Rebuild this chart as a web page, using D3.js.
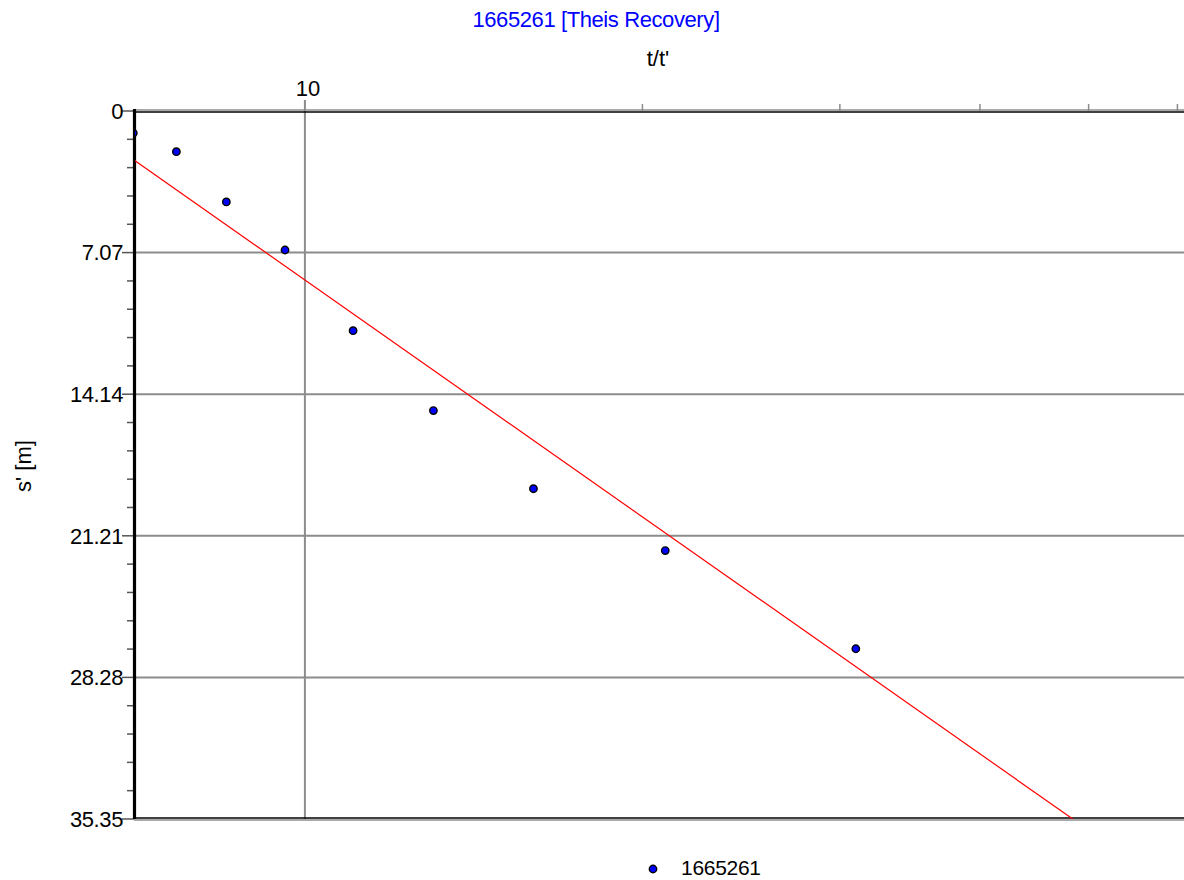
<!DOCTYPE html>
<html>
<head>
<meta charset="utf-8">
<script src="https://cdn.jsdelivr.net/npm/d3@7"></script>
<style>
  body { margin: 0; background: #ffffff; }
  text { font-family: "Liberation Sans", Arial, sans-serif; font-size: 22px; }
</style>
</head>
<body>
<div id="chart"></div>
<script>
// measured recovery points: t/t' and residual drawdown s' [m]
const ratio = [7.03, 7.68, 8.51, 9.60, 11.04, 13.02, 15.99, 20.96, 31.0, 61.5];
const drawdown = [1.10, 2.03, 4.54, 6.94, 10.97, 14.96, 18.86, 21.95, 26.85, 35.4];

// straight line fit (two end points)
const fitRatio = [7.0, 48.4];
const fitDrawdown = [2.35, 35.35];

const yTicks = [0, 7.07, 14.14, 21.21, 28.28, 35.35];
const xMajorTicks = [10];
const xMinorTicks = [20, 30, 40, 50, 60];

const seriesName = "1665261";
const title = "1665261 [Theis Recovery]";

// set the dimensions of the graph
const fullWidth = 1184, fullHeight = 880;
const plot = {left: 134, top: 111, right: 1184, bottom: 819};

// set the ranges
const x = d3.scaleLog()
          .domain([7.04, 60.82])
          .range([plot.left, plot.right]);

const y = d3.scaleLinear()
          .domain([0, 35.35])
          .range([plot.top, plot.bottom]);

let svg = d3.select("#chart").append("svg")
    .attr("width", fullWidth)
    .attr("height", fullHeight);

svg.append("defs").append("clipPath")
    .attr("id", "plotClip")
  .append("rect")
    .attr("x", plot.left + 1)
    .attr("y", plot.top)
    .attr("width", plot.right - plot.left)
    .attr("height", plot.bottom - plot.top);

// horizontal grid
svg.append("g")
    .selectAll("line")
    .data(yTicks.slice(1, -1))
    .enter().append("line")
    .attr("x1", plot.left)
    .attr("x2", plot.right)
    .attr("y1", d => y(d))
    .attr("y2", d => y(d))
    .style("stroke", "#8c8c8c")
    .style("stroke-width", 2);

// vertical grid at 10 (runs up over the axis as the tick)
svg.append("g")
    .selectAll("line")
    .data(xMajorTicks)
    .enter().append("line")
    .attr("x1", d => x(d))
    .attr("x2", d => x(d))
    .attr("y1", plot.top - 11)
    .attr("y2", plot.bottom)
    .style("stroke", "#8c8c8c")
    .style("stroke-width", 2);

// minor ticks on top axis
svg.append("g")
    .selectAll("line")
    .data(xMinorTicks)
    .enter().append("line")
    .attr("x1", d => x(d))
    .attr("x2", d => x(d))
    .attr("y1", plot.top - 7)
    .attr("y2", plot.top)
    .style("stroke", "#8c8c8c")
    .style("stroke-width", 1.5);

// frame: gray + black double lines top and bottom
svg.append("line")
    .attr("x1", plot.left).attr("x2", plot.right)
    .attr("y1", plot.top - 1).attr("y2", plot.top - 1)
    .style("stroke", "#8c8c8c").style("stroke-width", 1.6);
svg.append("line")
    .attr("x1", plot.left).attr("x2", plot.right)
    .attr("y1", plot.top + 1).attr("y2", plot.top + 1)
    .style("stroke", "#000").style("stroke-width", 1.4);
svg.append("line")
    .attr("x1", plot.left).attr("x2", plot.right)
    .attr("y1", plot.bottom + 1).attr("y2", plot.bottom + 1)
    .style("stroke", "#8c8c8c").style("stroke-width", 1.6);
svg.append("line")
    .attr("x1", plot.left).attr("x2", plot.right)
    .attr("y1", plot.bottom - 1).attr("y2", plot.bottom - 1)
    .style("stroke", "#000").style("stroke-width", 1.4);

// y axis: major and minor ticks
const yMinor = [];
for (let i = 0; i < yTicks.length - 1; i++) {
  const step = (yTicks[i + 1] - yTicks[i]) / 5;
  for (let k = 1; k < 5; k++) yMinor.push(yTicks[i] + k * step);
}

svg.append("g")
    .selectAll("line")
    .data(yMinor)
    .enter().append("line")
    .attr("x1", plot.left - 7)
    .attr("x2", plot.left)
    .attr("y1", d => y(d))
    .attr("y2", d => y(d))
    .style("stroke", "#555")
    .style("stroke-width", 1.5);

svg.append("g")
    .selectAll("line")
    .data(yTicks)
    .enter().append("line")
    .attr("x1", plot.left - 12)
    .attr("x2", plot.left)
    .attr("y1", d => y(d))
    .attr("y2", d => y(d))
    .style("stroke", "#555")
    .style("stroke-width", 1.5);

svg.append("g")
    .selectAll("text")
    .data(yTicks)
    .enter().append("text")
    .attr("x", plot.left - 11)
    .attr("y", d => y(d))
    .attr("dy", "0.35em")
    .attr("text-anchor", "end")
    .style("letter-spacing", "-0.4px")
    .text(d => d === 0 ? "0" : d.toFixed(2));

// thick left axis line
svg.append("line")
    .attr("x1", plot.left + 0.5).attr("x2", plot.left + 0.5)
    .attr("y1", plot.top - 2).attr("y2", plot.bottom)
    .style("stroke", "#000").style("stroke-width", 3.2);

// x tick labels (top)
svg.append("g")
    .selectAll("text")
    .data(xMajorTicks)
    .enter().append("text")
    .attr("x", d => x(d) + 3)
    .attr("y", 96)
    .attr("text-anchor", "middle")
    .text(d => d);

// fit line
svg.append("path")
    .datum(fitRatio.map((d, i) => [d, fitDrawdown[i]]))
    .attr("clip-path", "url(#plotClip)")
    .attr("d", d3.line().x(d => x(d[0])).y(d => y(d[1])))
    .style("fill", "none")
    .style("stroke", "#ff0000")
    .style("stroke-width", 1.2);

// data points
svg.append("g")
    .attr("clip-path", "url(#plotClip)")
    .selectAll("circle")
    .data(ratio)
    .enter().append("circle")
    .attr("cx", d => x(d))
    .attr("cy", (d, i) => y(drawdown[i]))
    .attr("r", 3.7)
    .style("fill", "#0000ff")
    .style("stroke", "#000")
    .style("stroke-width", 1.4);

// titles
svg.append("text")
    .attr("x", 596)
    .attr("y", 27)
    .attr("text-anchor", "middle")
    .style("fill", "#0000ff")
    .style("letter-spacing", "-0.4px")
    .text(title);

svg.append("text")
    .attr("x", 658)
    .attr("y", 66)
    .attr("text-anchor", "middle")
    .text("t/t'");

svg.append("text")
    .attr("transform", "translate(31, 466) rotate(-90)")
    .attr("text-anchor", "middle")
    .text("s' [m]");

// legend
svg.append("circle")
    .attr("cx", 653)
    .attr("cy", 869)
    .attr("r", 3.7)
    .style("fill", "#0000ff")
    .style("stroke", "#000")
    .style("stroke-width", 1.4);

svg.append("text")
    .attr("x", 681)
    .attr("y", 875)
    .style("font-size", "21px")
    .style("letter-spacing", "-0.3px")
    .text(seriesName);
</script>
</body>
</html>
